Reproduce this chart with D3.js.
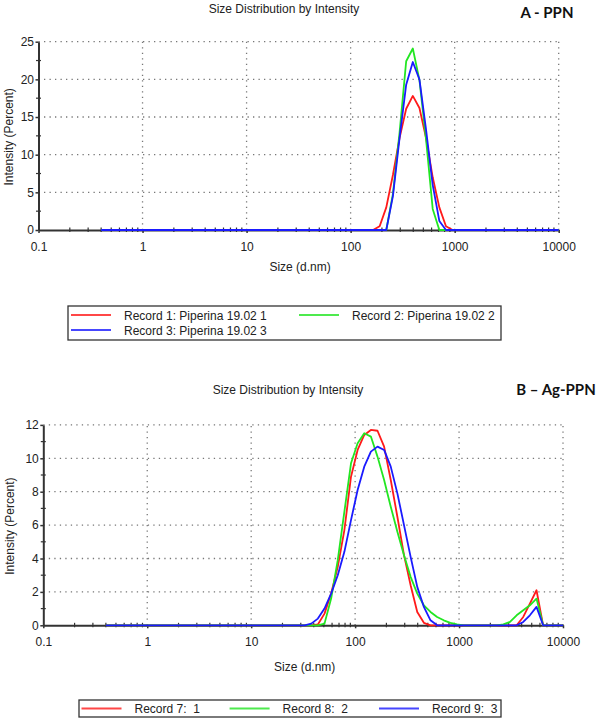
<!DOCTYPE html>
<html>
<head>
<meta charset="utf-8">
<script src="https://cdn.jsdelivr.net/npm/d3@7"></script>
<style>
  body { margin: 0; background: #fff; }
  svg { font-family: 'Liberation Sans', Arial, sans-serif; }
</style>
</head>
<body>
<svg id="chart"></svg>
<script>
// --- data ---
const xTicks = [0.1, 1, 10, 100, 1000, 10000];
const yTicksA = [0, 5, 10, 15, 20, 25];
const yTicksB = [0, 2, 4, 6, 8, 10, 12];

// panel A: size bins (d.nm) and intensity (%)
const sizesA = [0.4, 164.2, 190.1, 220.2, 255.0, 295.3, 342.0, 396.1, 458.7, 531.2, 615.1, 712.4, 825.0, 955.4, 10000];
const record1 = [0, 0, 0.5, 3.0, 7.3, 12.2, 16.1, 17.8, 16.2, 12.2, 7.0, 3.0, 0.5, 0, 0];
const record2 = [0, 0, 0, 0, 4.8, 12.9, 22.4, 24.1, 19.9, 12.0, 2.8, 0, 0, 0, 0];
const record3 = [0, 0, 0, 0, 4.5, 12.2, 19.3, 22.3, 20.0, 13.3, 6.0, 1.2, 0, 0, 0];
const labelsA = ['Record 1: Piperina 19.02 1', 'Record 2: Piperina 19.02 2', 'Record 3: Piperina 19.02 3'];

// panel B
const sizesB = [0.4, 32.67, 37.84, 43.82, 50.75, 58.77, 68.06, 78.82, 91.28, 105.7, 122.4, 141.8, 164.2, 190.1,
    220.2, 255.0, 295.3, 342.0, 396.1, 458.7, 531.2, 615.1, 712.4, 825.0, 955.4, 1106, 2305, 2669, 3091, 3580,
    4145, 4801, 5560, 6439, 10000];
const record7 = [0, 0, 0, 0.05, 0.7, 1.9, 3.5, 5.7, 8.9, 10.5, 11.4, 11.7, 11.65, 10.7, 8.7, 6.5, 4.2, 2.4, 0.8, 0.15,
    0, 0, 0, 0, 0, 0, 0, 0, 0, 0, 0.5, 1.3, 2.1, 0, 0];
const record8 = [0, 0, 0, 0, 0.1, 1.6, 3.9, 6.8, 9.7, 10.9, 11.5, 11.3, 10.1, 8.7, 7.1, 5.6, 4.2, 2.9, 1.9, 1.2,
    0.8, 0.5, 0.3, 0.15, 0.05, 0, 0, 0.05, 0.2, 0.6, 0.9, 1.2, 1.6, 0, 0];
const record9 = [0, 0, 0.1, 0.4, 1.0, 1.9, 3.0, 4.4, 6.3, 8.1, 9.5, 10.4, 10.7, 10.5, 9.5, 7.9, 6.0, 4.1, 2.3, 1.1,
    0.3, 0, 0, 0, 0, 0, 0, 0, 0, 0, 0.2, 0.6, 1.1, 0, 0];
const labelsB = ['Record 7:  1', 'Record 8:  2', 'Record 9:  3'];

const seriesColors = ['#ff1a1a', '#22e622', '#1a1aff'];

const svg = d3.select('#chart').attr('width', 600).attr('height', 718);

class SizeChart {

    constructor(_config) {
        this.config = _config;
        this.initVis();
    }

    initVis() {
        let vis = this;
        const c = vis.config;

        vis.x = d3.scaleLog().domain([0.1, 10000]).range([c.left, c.right]);
        vis.y = d3.scaleLinear().domain([0, c.yMax]).range([c.bottom, c.top]);
        vis.g = svg.append('g');

        vis.line = d3.line()
            .x(d => vis.x(d[0]))
            .y(d => vis.y(d[1]));

        vis.render();
    }

    render() {
        let vis = this;
        const c = vis.config;

        // titles
        vis.g.append('text')
            .attr('x', c.titleX).attr('y', c.titleY)
            .attr('text-anchor', 'middle')
            .attr('font-size', 12).attr('fill', '#222')
            .text('Size Distribution by Intensity');

        vis.g.append('text')
            .attr('x', c.tagX).attr('y', c.tagY)
            .attr('text-anchor', 'middle')
            .attr('font-family', 'Lato, sans-serif')
            .attr('font-weight', 'bold')
            .attr('font-size', 15).attr('fill', '#111')
            .text(c.tag);

        // dotted grid
        vis.g.selectAll('.hgrid')
            .data(c.yTicks.filter(d => d > 0))
            .join('line')
            .attr('class', 'hgrid')
            .attr('x1', c.left).attr('x2', c.right)
            .attr('y1', d => vis.y(d)).attr('y2', d => vis.y(d))
            .attr('stroke', '#777').attr('stroke-width', 1.3)
            .attr('stroke-dasharray', '1.3,4.2');

        vis.g.selectAll('.vgrid')
            .data(xTicks.slice(1))
            .join('line')
            .attr('class', 'vgrid')
            .attr('x1', d => vis.x(d)).attr('x2', d => vis.x(d))
            .attr('y1', c.bottom).attr('y2', c.top)
            .attr('stroke', '#777').attr('stroke-width', 1.3)
            .attr('stroke-dasharray', '1.3,4.2');

        // minor ticks
        const minorX = [];
        xTicks.slice(0, -1).forEach(d => {
            for (let m = 2; m < 10; m++) minorX.push(d * m);
        });
        vis.g.selectAll('.xminor')
            .data(minorX)
            .join('line')
            .attr('x1', d => vis.x(d)).attr('x2', d => vis.x(d))
            .attr('y1', c.bottom - 2.5).attr('y2', c.bottom + 2)
            .attr('stroke', '#333').attr('stroke-width', 1.2);

        const minorY = c.yTicks.slice(0, -1).map((d, i) => (d + c.yTicks[i + 1]) / 2);
        vis.g.selectAll('.yminor')
            .data(minorY)
            .join('line')
            .attr('x1', c.left - 2.5).attr('x2', c.left + 2.5)
            .attr('y1', d => vis.y(d)).attr('y2', d => vis.y(d))
            .attr('stroke', '#333').attr('stroke-width', 1.2);

        // axes
        const xAxis = vis.g.append('g')
            .attr('transform', `translate(0,${c.bottom})`)
            .call(d3.axisBottom(vis.x)
                .tickValues(xTicks)
                .tickFormat(d => String(d))
                .tickSizeInner(3).tickSizeOuter(0)
                .tickPadding(9));

        const yAxis = vis.g.append('g')
            .attr('transform', `translate(${c.left},0)`)
            .call(d3.axisLeft(vis.y)
                .tickValues(c.yTicks)
                .tickSizeInner(3).tickSizeOuter(0)
                .tickPadding(1.5));

        [xAxis, yAxis].forEach(a => {
            a.select('.domain').attr('stroke', '#333').attr('stroke-width', 2);
            a.selectAll('.tick line').attr('stroke', '#333').attr('stroke-width', 1.5);
            a.selectAll('.tick text')
                .attr('font-size', 12)
                .attr('font-family', "'Liberation Sans', Arial, sans-serif")
                .attr('fill', '#222');
        });

        // axis labels
        vis.g.append('text')
            .attr('x', (c.left + c.right) / 2 + 1.5).attr('y', c.xLabelY)
            .attr('text-anchor', 'middle')
            .attr('font-size', 12).attr('fill', '#222')
            .text('Size (d.nm)');

        vis.g.append('text')
            .attr('transform', `translate(${c.yLabelX},${(c.top + c.bottom) / 2 + 1}) rotate(-90)`)
            .attr('text-anchor', 'middle')
            .attr('font-size', 12).attr('fill', '#222')
            .text('Intensity (Percent)');

        // curves (blue last, on top)
        c.series.forEach((vals, i) => {
            const pts = c.sizes.map((s, j) => [s, vals[j]]);
            vis.g.append('path')
                .datum(pts)
                .attr('d', vis.line)
                .attr('fill', 'none')
                .attr('stroke', seriesColors[i])
                .attr('stroke-width', 1.8)
                .attr('stroke-linejoin', 'round');
        });

        // legend
        const L = c.legend;
        const leg = vis.g.append('g');
        leg.append('rect')
            .attr('x', L.x).attr('y', L.y)
            .attr('width', L.w).attr('height', L.h)
            .attr('fill', '#fff')
            .attr('stroke', '#333').attr('stroke-width', 1.3);

        c.labels.forEach((lab, i) => {
            const p = L.items[i];
            leg.append('line')
                .attr('x1', p[0]).attr('x2', p[0] + 40)
                .attr('y1', p[1]).attr('y2', p[1])
                .attr('stroke', seriesColors[i]).attr('stroke-width', 2)
                .attr('opacity', 0.8);
            leg.append('text')
                .attr('x', p[0] + L.textOff).attr('y', p[1] + 4.5)
                .attr('font-size', 12).attr('fill', '#222')
                .style('white-space', 'pre')
                .text(lab);
        });
    }
}

new SizeChart({
    left: 38.5, right: 558.7, top: 41.7, bottom: 230, yMax: 25,
    yTicks: yTicksA,
    titleX: 284, titleY: 13, tag: 'A - PPN', tagX: 547, tagY: 18,
    xLabelY: 271, yLabelX: 12.5,
    sizes: sizesA, series: [record1, record2, record3], labels: labelsA,
    legend: {x: 68, y: 306, w: 433, h: 34, textOff: 53,
        items: [[71, 315], [299, 315], [71, 330]]}
});

new SizeChart({
    left: 43.3, right: 563, top: 424.9, bottom: 625.3, yMax: 12,
    yTicks: yTicksB,
    titleX: 288, titleY: 394, tag: 'B \u2013 Ag-PPN', tagX: 556, tagY: 395,
    xLabelY: 671, yLabelX: 14,
    sizes: sizesB, series: [record7, record8, record9], labels: labelsB,
    legend: {x: 79, y: 700, w: 422, h: 17, textOff: 53,
        items: [[81.5, 708.5], [229.6, 708.5], [379, 708.5]]}
});
</script>
</body>
</html>
